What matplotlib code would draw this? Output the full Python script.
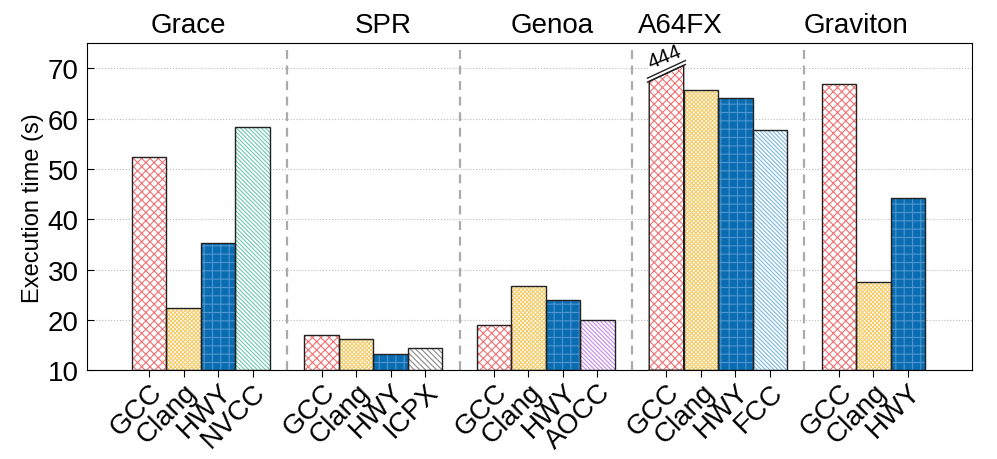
import numpy as np
import matplotlib
matplotlib.use("Agg")
from matplotlib import pyplot as plt

plt.rcParams["font.family"] = ["Liberation Sans", "DejaVu Sans"]
plt.rcParams["hatch.linewidth"] = 0.8

# data
systems = ["Grace", "SPR", "Genoa", "A64FX", "Graviton"]
compilers = [
    ["GCC", "Clang", "HWY", "NVCC"],
    ["GCC", "Clang", "HWY", "ICPX"],
    ["GCC", "Clang", "HWY", "AOCC"],
    ["GCC", "Clang", "HWY", "FCC"],
    ["GCC", "Clang", "HWY"],
]
times = [
    [52.4, 22.4, 35.3, 58.4],
    [17.0, 16.2, 13.2, 14.4],
    [19.0, 26.7, 23.9, 19.9],
    [444.0, 65.7, 64.1, 57.8],
    [66.8, 27.6, 44.3],
]
title_pos = [1.15, 6.8, 11.7, 15.4, 20.5]

ymin, ymax = 10, 75
clip_top = 70.6  # where the broken A64FX GCC bar is cut

styles = {
    "GCC": dict(fc="white", hc="#f27070", hatch="x" * 4),
    "Clang": dict(fc="white", hc="#f6cc6a", hatch="x" * 8),
    "HWY": dict(fc="#0b6db1", hc="#4f94d2", hatch="+" * 2),
    "NVCC": dict(fc="white", hc="#6cc8ac", hatch="\\" * 8),
    "ICPX": dict(fc="white", hc="#8a8a8a", hatch="\\" * 6),
    "AOCC": dict(fc="white", hc="#c488ea", hatch="\\" * 8),
    "FCC": dict(fc="white", hc="#78b8e2", hatch="\\" * 8),
}

fig = plt.figure(figsize=(9.97, 4.6), dpi=100)
ax = fig.add_axes([0.0873, 0.193, 0.888, 0.711])

ticks, labels = [], []
for g, (sysname, comps, vals) in enumerate(zip(systems, compilers, times)):
    for j, (c, v) in enumerate(zip(comps, vals)):
        x = g * 5 + j
        h = min(v, clip_top)
        st = styles[c]
        ax.bar(x, h - ymin, bottom=ymin, width=1.0, color=st["fc"],
               edgecolor=st["hc"], hatch=st["hatch"], linewidth=0, zorder=2)
        if v > clip_top:
            # broken bar: white wedge, break lines and real value
            y_left = clip_top - 3.2
            ax.fill([x - 0.5, x - 0.5, x + 0.5], [y_left, clip_top + 0.1, clip_top + 0.1],
                    color="white", zorder=3)
            ax.plot([x - 0.5, x - 0.5, x + 0.5, x + 0.5, x - 0.5],
                    [ymin, y_left, clip_top, ymin, ymin], color="#222222",
                    lw=1.0, zorder=4, clip_on=False)
            for off in (0.0, 0.8):
                ax.plot([x - 0.55, x + 0.55], [y_left - 0.15 + off, clip_top + 0.15 + off],
                        color="#222222", lw=1.0, zorder=5, clip_on=False)
            ax.text(x - 0.05, clip_top + 1.7, f"{v:.0f}", rotation=22, ha="center",
                    va="center", fontsize=15, zorder=6)
        else:
            ax.bar(x, h - ymin, bottom=ymin, width=1.0, color="none",
                   edgecolor="#222222", linewidth=1.0, zorder=4)
        ticks.append(x)
        labels.append(c)
    ax.text(title_pos[g], 1.035, sysname, transform=ax.get_xaxis_transform(),
            ha="center", va="baseline", fontsize=20)
    if g > 0:
        ax.axvline(g * 5 - 1, color="#aaaaaa", lw=1.6, ls=(0, (4, 3)), zorder=1)

ax.set_xlim(-1.8, 23.87)
ax.set_ylim(ymin, ymax)
ax.set_yticks(np.arange(10, 71, 10))
ax.set_xticks(ticks)
ax.set_xticklabels(labels, rotation=45, ha="right", rotation_mode="anchor", fontsize=20)
ax.tick_params(axis="y", direction="in", length=5, labelsize=20, pad=6)
ax.tick_params(axis="x", direction="out", length=5, pad=1)
ax.yaxis.grid(True, ls=":", color="#bbbbbb", lw=0.8, zorder=0)
ax.set_axisbelow(True)
ax.set_ylabel("Execution time (s)", fontsize=17, labelpad=3)

fig.savefig("out.png", dpi=100)
